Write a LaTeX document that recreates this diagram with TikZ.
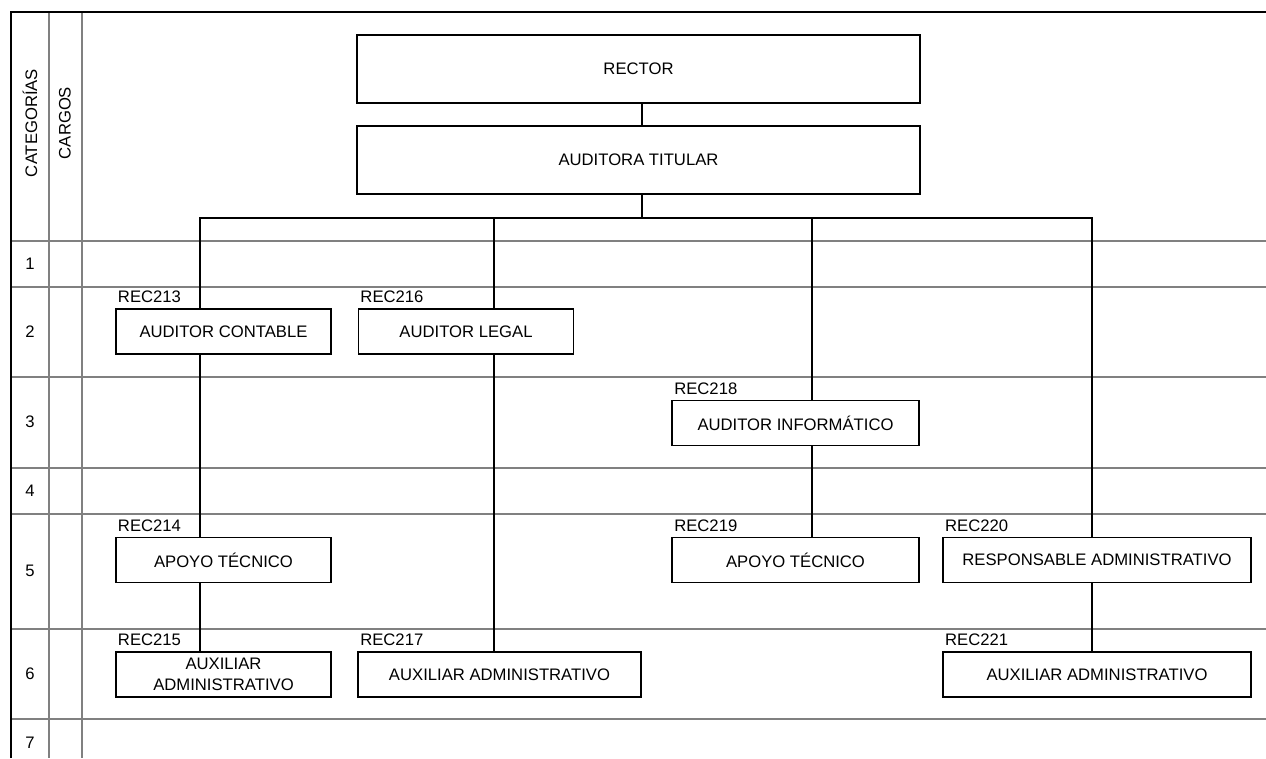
\documentclass[tikz,border=0pt]{standalone}
\usepackage{fontspec}
\setmainfont{Liberation Sans}

\tikzset{
  grid/.style={gray, line width=0.9pt},
  cargo/.style={draw, line width=1.2pt, fill=white, minimum height=34pt, align=center},
  conn/.style={line width=1.2pt},
  codigo/.style={anchor=south west, inner sep=0pt}
}

\begin{document}
\begin{tikzpicture}[x=0.75pt, y=-0.75pt, font=\fontsize{12.5}{16}\selectfont]
        \useasboundingbox (0,0) rectangle (1266,758);
        % tabla de categorias
        \foreach \y in {241,287,377,468,514,629,719}
            \draw[grid] (11,\y) -- (1266,\y);
        \draw[grid] (49,12) -- (49,758);
        \draw[grid] (82,12) -- (82,758);
        \draw[line width=1.2pt] (11,758) -- (11,12) -- (1266,12);
        \node[rotate=90] (cat) at (30,123) {CATEGORÍAS};
        \node[rotate=90] (car) at (65,123) {CARGOS};
        \foreach \n/\y in {1/264,2/332,3/422,4/491,5/571,6/674,7/743}
            \node (n\n) at (30,\y) {\n};

        % cargos
        \node[cargo, minimum width=422pt, minimum height=51pt] (rector) at (638.5,69) {RECTOR};
        \node[cargo, minimum width=422pt, minimum height=51pt] (titular) at (638.5,160) {AUDITORA TITULAR};
        \node[cargo, minimum width=161.5pt] (contable) at (223.5,331.5) {AUDITOR CONTABLE};
        \node[cargo, minimum width=161.5pt] (legal) at (466,331.5) {AUDITOR LEGAL};
        \node[cargo, minimum width=185pt] (informatico) at (795.5,423) {AUDITOR INFORMÁTICO};
        \node[cargo, minimum width=161.5pt] (apoyoA) at (223.5,560) {APOYO TÉCNICO};
        \node[cargo, minimum width=185pt] (apoyoB) at (795.5,560) {APOYO TÉCNICO};
        \node[cargo, minimum width=231pt] (responsable) at (1097,560) {RESPONSABLE ADMINISTRATIVO};
        \node[cargo, minimum width=161.5pt] (auxA) at (223.5,674.5) {AUXILIAR\\ADMINISTRATIVO};
        \node[cargo, minimum width=212pt] (auxB) at (499.5,674.5) {AUXILIAR ADMINISTRATIVO};
        \node[cargo, minimum width=231pt] (auxC) at (1097,674.5) {AUXILIAR ADMINISTRATIVO};

        % codigos
        \node[codigo] (r213) at ([xshift=2pt,yshift=3.5pt]contable.north west) {REC213};
        \node[codigo] (r216) at ([xshift=2pt,yshift=3.5pt]legal.north west) {REC216};
        \node[codigo] (r218) at ([xshift=2pt,yshift=3.5pt]informatico.north west) {REC218};
        \node[codigo] (r214) at ([xshift=2pt,yshift=3.5pt]apoyoA.north west) {REC214};
        \node[codigo] (r219) at ([xshift=2pt,yshift=3.5pt]apoyoB.north west) {REC219};
        \node[codigo] (r220) at ([xshift=2pt,yshift=3.5pt]responsable.north west) {REC220};
        \node[codigo] (r215) at ([xshift=2pt,yshift=3.5pt]auxA.north west) {REC215};
        \node[codigo] (r217) at ([xshift=2pt,yshift=3.5pt]auxB.north west) {REC217};
        \node[codigo] (r221) at ([xshift=2pt,yshift=3.5pt]auxC.north west) {REC221};

        % lineas
        \coordinate (hub) at (642,218);
        \coordinate (b1) at (200,218);
        \coordinate (b2) at (494,218);
        \coordinate (b3) at (812,218);
        \coordinate (b4) at (1092,218);
        \draw[conn] (rector.south -| hub) -- (titular.north -| hub);
        \draw[conn] (titular.south -| hub) -- (hub);
        \draw[conn] (contable.north -| b1) -- (b1) -- (b4) -- (responsable.north -| b4);
        \draw[conn] (contable.south -| b1) -- (apoyoA.north -| b1);
        \draw[conn] (apoyoA.south -| b1) -- (auxA.north -| b1);
        \draw[conn] (b2) -- (legal.north -| b2);
        \draw[conn] (legal.south -| b2) -- (auxB.north -| b2);
        \draw[conn] (b3) -- (informatico.north -| b3);
        \draw[conn] (informatico.south -| b3) -- (apoyoB.north -| b3);
        \draw[conn] (responsable.south -| b4) -- (auxC.north -| b4);
        % \draw[conn] (legal.north) -- (legal.south);
    \end{tikzpicture}
\end{document}
